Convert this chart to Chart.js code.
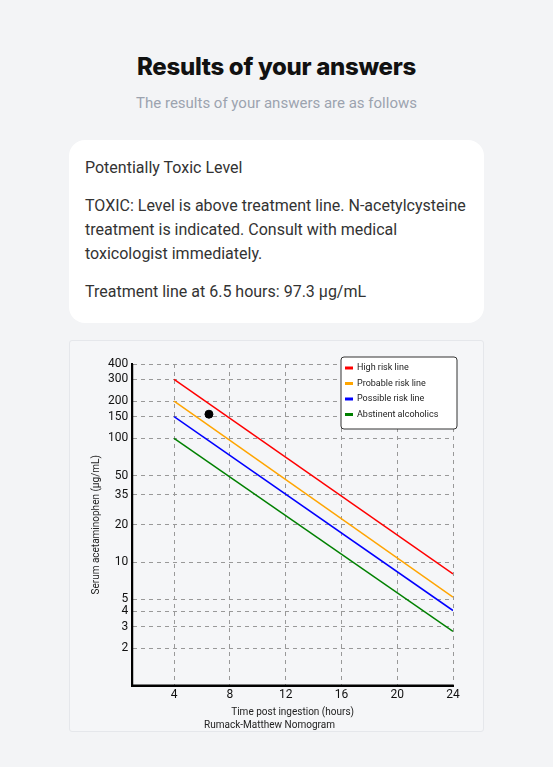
<!DOCTYPE html>
<html><head><meta charset="utf-8">
<script src="https://cdn.jsdelivr.net/npm/chart.js@4"></script>
<style>
body{margin:0;background:#f3f4f6;font-family:Roboto,sans-serif;width:553px;height:767px;position:relative;overflow:hidden}
h1{position:absolute;top:52px;left:0;width:553px;text-align:center;margin:0;font-family:Inter,sans-serif;font-weight:800;font-size:24px;color:#111;letter-spacing:-0.3px}
.sub{position:absolute;top:94px;left:0;width:553px;text-align:center;color:#9ca3af;font-size:15px}
.card{position:absolute;left:69px;top:140px;width:415px;height:183px;background:#fff;border-radius:16px;box-sizing:border-box;padding:16px;color:#333;font-size:16px;line-height:24px}
.card p{margin:0 0 14px 0}
.chartbox{position:absolute;left:69px;top:340px;width:415px;height:392px;background:#f5f6f8;border:1px solid #e5e7eb;box-sizing:border-box;border-radius:3px}
</style></head><body>
<h1>Results of your answers</h1>
<div class="sub">The results of your answers are as follows</div>
<div class="card">
<p>Potentially Toxic Level</p>
<p>TOXIC: Level is above treatment line. N-acetylcysteine treatment is indicated. Consult with medical toxicologist immediately.</p>
<p>Treatment line at 6.5 hours: 97.3 µg/mL</p>
</div>
<div class="chartbox"><canvas id="c"></canvas></div>
<script>
const hours=[4,24];
const highRisk=[300,8.0];
const probableRisk=[200,5.2];
const possibleRisk=[150,4.05];
const abstinent=[100,2.75];
const patient=[{x:6.5,y:157}];
const xTicks=[4,8,12,16,20,24];
const yTicks=[2,3,4,5,10,20,35,50,100,150,200,300,400];
const mk=(label,vals,color)=>({label,data:hours.map((h,i)=>({x:h,y:vals[i]})),borderColor:color,backgroundColor:color,borderWidth:1.5,pointRadius:0,fill:false});
const legendPlugin={id:'inlegend',afterDraw(ch){
 const ctx=ch.ctx,a=ch.chartArea;const items=ch.data.datasets.filter(d=>d.label);
 const w=116,h=72,x=a.right-w+4,y=a.top-7;
 ctx.save();ctx.fillStyle='#fff';ctx.strokeStyle='#333';ctx.lineWidth=1;
 ctx.beginPath();ctx.roundRect(x,y,w,h,3);ctx.fill();ctx.stroke();
 ctx.font='9px Roboto';ctx.textBaseline='middle';
 items.forEach((d,i)=>{const yy=y+11+i*15.5;ctx.fillStyle=d.borderColor;ctx.fillRect(x+4,yy-1.5,8,3);ctx.fillStyle='#222';ctx.fillText(d.label,x+16,yy);});
 ctx.restore();}};
new Chart(document.getElementById('c'),{type:'line',
data:{datasets:[mk('High risk line',highRisk,'#ff0000'),mk('Probable risk line',probableRisk,'#ffa500'),mk('Possible risk line',possibleRisk,'#0000ff'),mk('Abstinent alcoholics',abstinent,'#008000'),
{label:'',type:'scatter',data:patient,backgroundColor:'#000',borderColor:'#000',pointRadius:4}]},
options:{responsive:true,maintainAspectRatio:false,animation:false,
layout:{padding:{left:16,right:30,top:23,bottom:0}},
plugins:{legend:{display:false},tooltip:{enabled:false},
title:{display:true,position:'bottom',text:'Rumack-Matthew Nomogram',color:'#222',font:{size:10,family:'Roboto',weight:'normal'},padding:{top:0,bottom:0}}},
scales:{
x:{type:'linear',min:1,max:24,afterBuildTicks(s){s.ticks=xTicks.map(v=>({value:v}));},
 ticks:{color:'#111',font:{size:12,family:'Roboto'},maxRotation:0,padding:2},
 grid:{color:'#999',drawTicks:false},border:{color:'#000',width:2,dash:[4,4],display:true},
 title:{display:true,text:'Time post ingestion (hours)',color:'#222',font:{size:10,family:'Roboto'},padding:{top:2,bottom:1}}},
y:{type:'logarithmic',min:1,max:400,afterBuildTicks(s){s.ticks=yTicks.map(v=>({value:v}));},
 ticks:{color:'#111',font:{size:12,family:'Roboto'},callback:v=>String(v),padding:4,autoSkip:false},
 grid:{color:'#999',drawTicks:false},border:{color:'#000',width:2,dash:[4,4]},
 title:{display:true,text:'Serum acetaminophen (µg/mL)',color:'#222',font:{size:10,family:'Roboto'},padding:{bottom:2}}}}},
plugins:[legendPlugin,{id:'solidaxes',afterDraw(ch){const c=ch.ctx,a=ch.chartArea;c.save();c.strokeStyle='#000';c.lineWidth=2;c.beginPath();c.moveTo(a.left,a.top);c.lineTo(a.left,a.bottom);c.lineTo(a.right,a.bottom);c.stroke();c.restore();}}]
});
</script></body></html>
